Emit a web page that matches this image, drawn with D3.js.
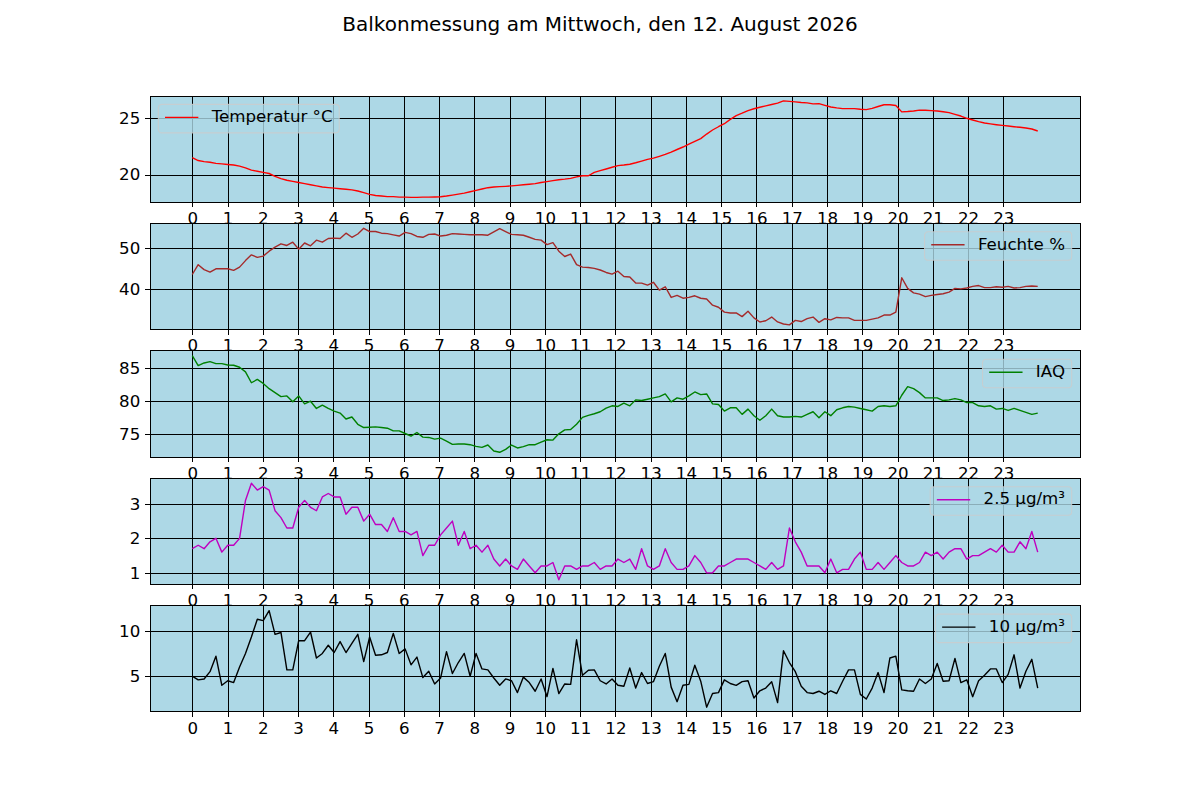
<!DOCTYPE html>
<html>
<head>
<meta charset="utf-8">
<script src="https://cdn.jsdelivr.net/npm/d3@7"></script>
<style>
  body { margin: 0; background: #fff; }
  text { font-family: "DejaVu Sans", sans-serif; fill: #000; }
</style>
</head>
<body>
<div id="chart"></div>
<script>
// one sample roughly every 10 minutes, 144 samples over the day
const sampleMinutes = 10.06;
const hours = d3.range(144).map((i) => (i * sampleMinutes) / 60);

const hourTicks = [0, 1, 2, 3, 4, 5, 6, 7, 8, 9, 10, 11, 12, 13, 14, 15, 16, 17, 18, 19, 20, 21, 22, 23];
const tempTicks = [20, 25];
const humidityTicks = [40, 50];
const iaqTicks = [75, 80, 85];
const pm25Ticks = [1, 2, 3];
const pm10Ticks = [5, 10];

const chartTitle = "Balkonmessung am Mittwoch, den 12. August 2026";
const seriesLabels = ["Temperatur °C", "Feuchte %", "IAQ", "2.5 µg/m³", "10 µg/m³"];

const tempValues = [
  21.5, 21.25, 21.15, 21.1, 21.0, 20.95, 20.9, 20.85, 20.75, 20.6,
  20.4, 20.3, 20.2, 20.1, 19.85, 19.65, 19.5, 19.4, 19.3, 19.2,
  19.1, 19.0, 18.9, 18.85, 18.8, 18.75, 18.7, 18.65, 18.55, 18.4,
  18.25, 18.15, 18.1, 18.05, 18.05, 18.0, 18.0, 17.98, 17.98, 18.0,
  18.0, 18.02, 18.04, 18.1, 18.18, 18.27, 18.36, 18.48, 18.6, 18.72,
  18.84, 18.9, 18.93, 18.96, 19.0, 19.05, 19.1, 19.15, 19.2, 19.3,
  19.38, 19.47, 19.55, 19.6, 19.67, 19.8, 19.9, 19.9, 20.2, 20.35,
  20.5, 20.65, 20.8, 20.85, 20.92, 21.05, 21.2, 21.35, 21.46, 21.62,
  21.79, 22.0, 22.23, 22.45, 22.7, 22.95, 23.2, 23.6, 23.96, 24.25,
  24.52, 24.9, 25.24, 25.45, 25.68, 25.85, 25.98, 26.1, 26.22, 26.35,
  26.55, 26.5, 26.46, 26.4, 26.37, 26.28, 26.3, 26.15, 26.0, 25.92,
  25.86, 25.86, 25.86, 25.8, 25.77, 25.88, 26.05, 26.2, 26.2, 26.13,
  25.57, 25.6, 25.65, 25.72, 25.72, 25.68, 25.65, 25.58, 25.5, 25.35,
  25.2, 25.0, 24.85, 24.7, 24.58, 24.5, 24.43, 24.37, 24.31, 24.25,
  24.2, 24.14, 24.05, 23.87
];

const humidityValues = [
  43.6, 46.0, 44.8, 44.2, 45.0, 45.0, 45.0, 44.6, 45.4, 47.0,
  48.4, 47.8, 48.1, 49.3, 50.3, 51.1, 50.7, 51.5, 49.8, 51.3,
  50.6, 52.0, 51.5, 52.4, 52.5, 52.4, 53.7, 52.7, 53.5, 54.9,
  54.1, 54.1, 53.7, 53.6, 53.3, 53.0, 53.9, 53.6, 52.9, 52.7,
  53.4, 53.5, 53.0, 53.2, 53.6, 53.5, 53.4, 53.3, 53.3, 53.3,
  53.2, 54.0, 54.8, 54.1, 53.4, 53.3, 53.2, 52.7, 52.2, 52.0,
  50.9, 51.4, 49.3, 48.0, 48.6, 46.0, 45.4, 45.3, 45.1, 44.7,
  44.1, 43.7, 44.4, 43.1, 43.0, 41.5, 41.5, 41.0, 41.7, 39.8,
  40.6, 38.0, 38.5, 37.8, 38.0, 38.4, 37.8, 37.6, 36.1, 35.6,
  34.4, 34.2, 34.2, 33.3, 34.6, 33.0, 32.0, 32.3, 33.2, 32.0,
  31.5, 31.3, 32.4, 32.1, 32.8, 33.2, 31.9, 32.8, 32.5, 33.1,
  33.0, 33.0, 32.4, 32.4, 32.4, 32.7, 33.0, 33.7, 33.7, 34.4,
  42.8, 40.2, 39.1, 38.8, 38.2, 38.5, 38.7, 38.9, 39.3, 40.2,
  40.1, 40.3, 40.7, 40.9, 40.4, 40.4, 40.6, 40.5, 40.7, 40.3,
  40.4, 40.7, 40.8, 40.7
];

const iaqValues = [
  86.9, 85.4, 85.8, 86.0, 85.7, 85.7, 85.5, 85.45, 85.15, 84.45,
  82.8, 83.3, 82.7, 81.9, 81.3, 80.7, 80.8, 79.9, 80.8, 79.6,
  80.0, 78.9, 79.4, 78.9, 78.5, 78.2, 77.3, 77.6, 76.5, 76.0,
  76.05, 76.1, 76.0, 75.9, 75.5, 75.5, 75.1, 74.7, 75.25, 74.55,
  74.5, 74.25, 74.4, 73.95, 73.45, 73.5, 73.5, 73.4, 73.15, 73.0,
  73.35, 72.45, 72.25, 72.7, 73.35, 72.9, 73.1, 73.4, 73.4, 73.8,
  74.15, 74.1, 75.05, 75.65, 75.7, 76.5, 77.55, 77.85, 78.1, 78.4,
  78.95, 79.3, 79.2, 79.7, 79.3, 80.2, 80.1, 80.3, 80.5, 80.7,
  81.1, 79.9, 80.5, 80.3, 80.8, 81.4, 81.0, 81.1, 79.6, 79.5,
  78.5, 79.0, 79.0, 78.0, 78.8, 77.8, 77.1, 77.8, 78.8, 77.8,
  77.6, 77.6, 77.7, 77.6, 78.0, 78.4, 77.5, 78.4, 77.8, 78.7,
  79.0, 79.2, 79.1, 78.9, 78.7, 78.5, 79.2, 79.3, 79.2, 79.3,
  80.9, 82.2, 81.9, 81.3, 80.5, 80.5, 80.5, 80.1, 80.2, 80.4,
  80.2, 79.8, 79.8, 79.3, 79.2, 79.3, 78.8, 78.9, 78.6, 78.9,
  78.6, 78.3, 78.0, 78.2
];

const pm25Values = [
  1.7, 1.8, 1.7, 1.9, 2.0, 1.6, 1.8, 1.8, 2.0, 3.1,
  3.6, 3.4, 3.5, 3.4, 2.8, 2.6, 2.3, 2.3, 2.9, 3.1,
  2.9, 2.8, 3.2, 3.3, 3.2, 3.2, 2.7, 2.9, 2.9, 2.5,
  2.7, 2.4, 2.4, 2.2, 2.6, 2.2, 2.2, 2.1, 2.2, 1.5,
  1.8, 1.8, 2.1, 2.3, 2.5, 1.8, 2.2, 1.7, 1.8, 1.6,
  1.8, 1.4, 1.2, 1.4, 1.2, 1.1, 1.4, 1.2, 1.0, 1.2,
  1.2, 1.3, 0.8, 1.2, 1.2, 1.1, 1.2, 1.2, 1.3, 1.1,
  1.2, 1.2, 1.4, 1.3, 1.4, 1.1, 1.7, 1.2, 1.1, 1.2,
  1.7, 1.3, 1.1, 1.1, 1.2, 1.5, 1.3, 1.0, 1.0, 1.2,
  1.2, 1.3, 1.4, 1.4, 1.4, 1.3, 1.2, 1.1, 1.3, 1.1,
  1.2, 2.3, 1.9, 1.6, 1.2, 1.2, 1.2, 1.0, 1.4, 1.0,
  1.1, 1.1, 1.4, 1.6, 1.1, 1.1, 1.3, 1.1, 1.3, 1.5,
  1.3, 1.2, 1.2, 1.3, 1.6, 1.5, 1.6, 1.4, 1.6, 1.7,
  1.7, 1.4, 1.5, 1.5, 1.6, 1.7, 1.6, 1.8, 1.6, 1.6,
  1.9, 1.7, 2.2, 1.6
];

const pm10Values = [
  5.0, 4.6, 4.7, 5.5, 7.2, 4.0, 4.5, 4.3, 6.0, 7.5,
  9.3, 11.25, 11.1, 12.2, 9.6, 9.8, 5.7, 5.7, 8.9, 8.9,
  9.85, 7.0, 7.5, 8.4, 7.6, 8.8, 7.6, 8.6, 9.6, 6.6,
  9.3, 7.3, 7.35, 7.6, 9.7, 7.5, 8.0, 6.25, 7.1, 4.85,
  5.55, 4.15, 4.8, 7.7, 5.3, 6.5, 7.5, 5.0, 7.5, 5.8,
  5.7, 4.8, 4.0, 4.7, 4.5, 3.2, 4.9, 4.3, 3.35, 4.7,
  2.75, 5.85, 3.1, 4.15, 4.1, 9.0, 5.1, 5.65, 5.7, 4.5,
  4.15, 4.7, 4.0, 3.9, 5.9, 3.7, 5.4, 4.2, 4.4, 6.1,
  7.5, 3.8, 2.2, 4.0, 4.1, 6.2, 4.45, 1.6, 3.1, 3.2,
  4.6, 4.2, 4.0, 4.4, 4.5, 2.6, 3.4, 3.7, 4.4, 2.1,
  7.8, 6.5, 5.5, 3.9, 3.2, 3.1, 3.35, 3.0, 3.4, 3.1,
  4.45, 5.7, 5.7, 3.0, 2.5, 3.7, 5.4, 3.2, 7.0, 7.2,
  3.5, 3.4, 3.35, 4.7, 4.2, 4.7, 6.4, 4.45, 4.5, 6.95,
  4.3, 4.6, 2.75, 4.5, 5.1, 5.8, 5.8, 4.3, 5.2, 7.35,
  3.7, 5.55, 6.85, 3.7
];

(() => {
  const width = 1200;
  const height = 800;
  const margin = { top: 96, right: 120, bottom: 88, left: 150 };
  const plotW = width - margin.left - margin.right;
  // five stacked panels with a gap of 0.2 panel heights (hspace)
  const panelH = (height - margin.top - margin.bottom) / 5.8;
  const gap = panelH * 0.2;
  const fs = 16.67;
  const tickLen = 4.86;

  const panels = [
    { label: seriesLabels[0], values: tempValues, ticks: tempTicks, color: "#ff0000", legend: "left" },
    { label: seriesLabels[1], values: humidityValues, ticks: humidityTicks, color: "#a52a2a", legend: "right" },
    { label: seriesLabels[2], values: iaqValues, ticks: iaqTicks, color: "#008000", legend: "right" },
    { label: seriesLabels[3], values: pm25Values, ticks: pm25Ticks, color: "#bf00bf", legend: "right" },
    { label: seriesLabels[4], values: pm10Values, ticks: pm10Ticks, color: "#000000", legend: "right" },
  ];

  // matplotlib style 5% margins around the data
  const padded = ([lo, hi]) => [lo - (hi - lo) * 0.05, hi + (hi - lo) * 0.05];

  const svg = d3
    .select("#chart")
    .append("svg")
    .attr("width", width)
    .attr("height", height);

  svg.append("rect").attr("width", width).attr("height", height).attr("fill", "#fff");

  svg
    .append("text")
    .attr("x", width / 2)
    .attr("y", 31)
    .attr("text-anchor", "middle")
    .attr("font-size", "20px")
    .text(chartTitle);

  const xScale = d3.scaleLinear().domain(padded(d3.extent(hours))).range([0, plotW]);

  panels.forEach((p, k) => {
    const g = svg
      .append("g")
      .attr("transform", `translate(${margin.left}, ${margin.top + k * (panelH + gap)})`);

    const yScale = d3.scaleLinear().domain(padded(d3.extent(p.values))).range([panelH, 0]);

    g.append("rect").attr("width", plotW).attr("height", panelH).attr("fill", "#add8e6");

    // Grid
    g.append("g")
      .attr("class", "grid")
      .attr("transform", `translate(0, ${panelH})`)
      .call(d3.axisBottom(xScale).tickValues(hourTicks).tickSize(-panelH).tickFormat(""))
      .call((s) => s.select(".domain").remove())
      .selectAll(".tick > line")
      .attr("stroke", "#000")
      .attr("stroke-width", 1)
      .attr("shape-rendering", "crispEdges");
    g.append("g")
      .attr("class", "grid")
      .call(d3.axisLeft(yScale).tickValues(p.ticks).tickSize(-plotW).tickFormat(""))
      .call((s) => s.select(".domain").remove())
      .selectAll(".tick > line")
      .attr("stroke", "#000")
      .attr("stroke-width", 1)
      .attr("shape-rendering", "crispEdges");

    const line = d3
      .line()
      .x((d, i) => xScale(hours[i]))
      .y((d) => yScale(d));

    g.append("path")
      .datum(p.values)
      .attr("d", line)
      .attr("fill", "none")
      .attr("stroke", p.color)
      .attr("stroke-width", 1.4)
      .attr("stroke-linejoin", "round");

    // spines
    g.append("rect")
      .attr("width", plotW)
      .attr("height", panelH)
      .attr("fill", "none")
      .attr("stroke", "#000")
      .attr("stroke-width", 1)
      .attr("shape-rendering", "crispEdges");

    const xAxis = g
      .append("g")
      .attr("transform", `translate(0, ${panelH})`)
      .call(d3.axisBottom(xScale).tickValues(hourTicks).tickSize(tickLen).tickPadding(tickLen).tickFormat(d3.format("d")));
    const yAxis = g
      .append("g")
      .call(d3.axisLeft(yScale).tickValues(p.ticks).tickSize(tickLen).tickPadding(tickLen).tickFormat(d3.format("d")));
    [xAxis, yAxis].forEach((a) => {
      a.select(".domain").remove();
      a.selectAll(".tick line")
        .attr("stroke", "#000")
        .attr("stroke-width", 1)
        .attr("shape-rendering", "crispEdges");
      a.selectAll(".tick text")
        .attr("fill", "#000")
        .attr("font-size", fs + "px")
        .attr("font-family", "DejaVu Sans");
    });

    // Legend
    const pad = 0.4 * fs;
    const handle = 2 * fs;
    const boxH = 28.5;
    const lg = g.append("g").attr("class", "legend");
    const box = lg
      .append("rect")
      .attr("height", boxH)
      .attr("rx", 3.5)
      .attr("fill", "#add8e6")
      .attr("fill-opacity", 0.8)
      .attr("stroke", "#cccccc")
      .attr("stroke-opacity", 0.8)
      .attr("stroke-width", 1.1);
    lg.append("line")
      .attr("x1", pad)
      .attr("x2", pad + handle)
      .attr("y1", 13)
      .attr("y2", 13)
      .attr("stroke", p.color)
      .attr("stroke-width", 1.4);
    const label = lg
      .append("text")
      .attr("x", pad + handle + 0.8 * fs)
      .attr("y", 17.8)
      .attr("font-size", fs + "px")
      .text(p.label);
    const boxW = pad + handle + 0.8 * fs + label.node().getComputedTextLength() + pad;
    box.attr("width", boxW);
    const inset = 0.5 * fs;
    const lx = p.legend === "left" ? inset : plotW - inset - boxW;
    lg.attr("transform", `translate(${lx}, ${inset})`);
  });
})();
</script>
</body>
</html>
